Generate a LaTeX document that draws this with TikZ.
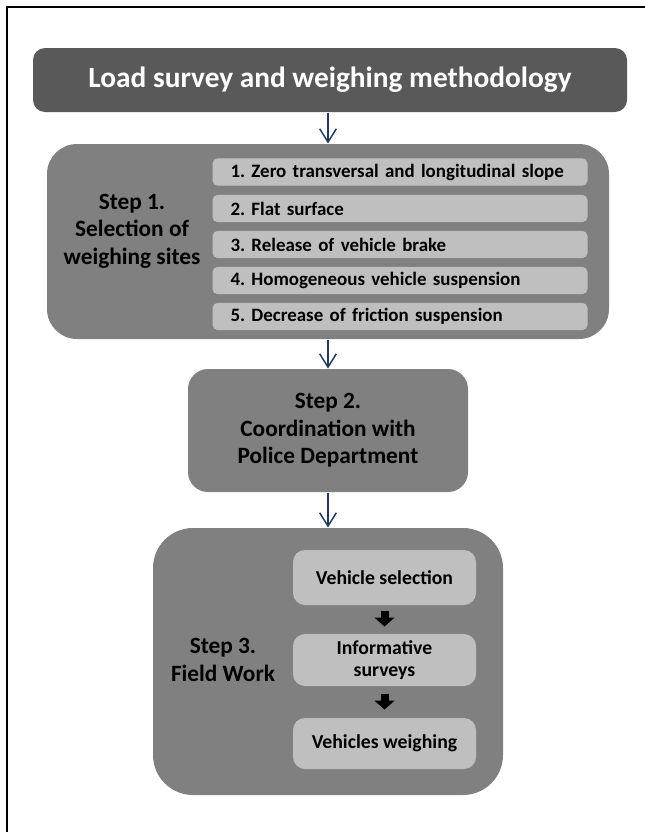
\documentclass[tikz,border=0pt]{standalone}
\usepackage{fontspec}
\setmainfont{Carlito}
\usetikzlibrary{arrows.meta}
\frenchspacing

\definecolor{titlegray}{RGB}{89,89,89}
\definecolor{stepgray}{RGB}{128,128,128}
\definecolor{itemgray}{RGB}{191,191,191}
\definecolor{navyarrow}{RGB}{31,56,100}

\tikzset{every picture/.style={line width=0.75pt}}
\tikzset{
  titlebox/.style={fill=titlegray, rounded corners=9pt, text=white, font=\bfseries\fontsize{22}{26}\selectfont},
  stepbox/.style={fill=stepgray, align=center, font=\bfseries\fontsize{17.5}{20.5}\selectfont},
  steptext/.style={align=center, font=\bfseries\fontsize{17.5}{20.5}\selectfont},
  itembox/.style={fill=itemgray, rounded corners=4pt, anchor=west, minimum height=20.6pt, inner xsep=13.5pt, text width=254.25pt, align=left, font=\bfseries\fontsize{14.2}{16}\selectfont},
  workbox/.style={fill=itemgray, rounded corners=9pt, minimum width=137.25pt, align=center, font=\bfseries\fontsize{14.8}{17}\selectfont},
  flowarrow/.style={draw=navyarrow, line width=1.1pt, -{Straight Barb[length=10pt,width=12.5pt]}},
  blockarrow/.style={draw=black, line width=6pt, -{Triangle[length=6.75pt,width=15pt]}}
}

\begin{document}
\begin{tikzpicture}[x=0.75pt,y=0.75pt,yscale=-1,xscale=1]
	\useasboundingbox (0,0) rectangle (645,832);
	
	%Frame
	\draw [line width=1.5pt]  (6.7,832) -- (6.7,6.7) -- (645,6.7) ;
	
	%Title
	\node [titlebox, minimum width=445.5pt, minimum height=48pt] (title) at (330,80) {Load survey and weighing methodology};
	
	%Step 1
	\node [stepbox, rounded corners=22.5pt, minimum width=421.5pt, minimum height=146.25pt] (step1) at (328,241.5) {};
	\node [steptext] (step1txt) at (132,231) {Step 1.\\Selection of\\weighing sites};
	\node [itembox] (cond1) at (212,172) {1. Zero transversal and longitudinal slope};
	\node [itembox] (cond2) at (212,208.5) {2. Flat surface};
	\node [itembox] (cond3) at (212,244.5) {3. Release of vehicle brake};
	\node [itembox] (cond4) at (212,280.5) {4. Homogeneous vehicle suspension};
	\node [itembox] (cond5) at (212,316.5) {5. Decrease of friction suspension};
	
	%Step 2
	\node [stepbox, rounded corners=15pt, minimum width=210pt, minimum height=92.25pt] (step2) at (328,430.5) {Step 2.\\Coordination with\\Police Department};
	
	%Step 3
	\node [stepbox, rounded corners=30pt, minimum width=262.5pt, minimum height=200.25pt] (step3) at (328,661.5) {};
	\node [steptext] (step3txt) at (223,660) {Step 3.\\Field Work};
	\node [workbox, minimum height=41.25pt] (vsel) at (384.5,577.5) {Vehicle selection};
	\node [workbox, minimum height=39pt] (isurv) at (384.5,660) {Informative\\surveys};
	\node [workbox, minimum height=38.25pt] (vweigh) at (384.5,743.5) {Vehicles weighing};
	
	%Arrows
	\draw [flowarrow] (title.south -| 328,0) -- (step1.north) ;
	\draw [flowarrow] (step1.south) -- (step2.north) ;
	\draw [flowarrow] (step2.south) -- (step3.north) ;
	\draw [blockarrow, shorten <=3.75pt, shorten >=5.25pt] (vsel.south) -- (isurv.north) ;
	\draw [blockarrow, shorten <=5.25pt, shorten >=6pt] (isurv.south) -- (vweigh.north) ;
	
\end{tikzpicture}
\end{document}
